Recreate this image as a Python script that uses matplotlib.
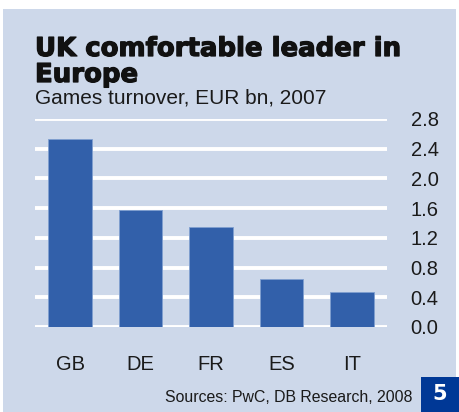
import matplotlib
matplotlib.use("Agg")
import matplotlib.pyplot as plt
from matplotlib.patches import Rectangle
import matplotlib.patheffects as pe

countries = ["GB", "DE", "FR", "ES", "IT"]
turnover = [2.53, 1.57, 1.34, 0.65, 0.47]
yticks = [0.0, 0.4, 0.8, 1.2, 1.6, 2.0, 2.4, 2.8]

bg = "#cdd8ea"
bar_col = "#3260aa"
W, H = 459, 412

fig = plt.figure(figsize=(W / 100, H / 100), dpi=100)
fig.patch.set_facecolor("white")
# light blue panel
fig.patches.append(Rectangle((3 / W, 0), (456 - 3) / W, (H - 9) / H,
                             transform=fig.transFigure, facecolor=bg,
                             edgecolor="none", zorder=-5))

ax = fig.add_axes([35 / W, 1 - 327 / H, (387 - 35) / W, (327 - 119) / H])
ax.set_facecolor("none")
ax.bar(range(len(countries)), turnover, width=0.62, color=bar_col,
       edgecolor="#7f9fd0", linewidth=0.6, zorder=2)
ax.set_xlim(-0.5, 4.5)
ax.set_ylim(0, 2.8)
ax.set_yticks(yticks)
ax.set_yticklabels([f"{v:.1f}" for v in yticks])
ax.yaxis.tick_right()
ax.grid(axis="y", color="white", linewidth=2.8, zorder=1)
ax.set_axisbelow(True)
ax.set_xticks(range(len(countries)))
ax.set_xticklabels(countries)
ax.tick_params(axis="both", length=0, labelsize=14.5, labelcolor="#1a1a1a",
               labelfontfamily="Liberation Sans")
ax.tick_params(axis="y", pad=17)
ax.tick_params(axis="x", pad=20)
for s in ax.spines.values():
    s.set_visible(False)

heavy = [pe.withStroke(linewidth=0.9, foreground="#111111")]
fig.text(35 / W, 1 - 56 / H, "UK comfortable leader in", fontsize=18.7,
         fontweight="heavy", family="DejaVu Sans", color="#111111",
         va="baseline", path_effects=heavy)
fig.text(35 / W, 1 - 82 / H, "Europe", fontsize=18.7,
         fontweight="heavy", family="DejaVu Sans", color="#111111",
         va="baseline", path_effects=heavy)
fig.text(35 / W, 1 - 103 / H, "Games turnover, EUR bn, 2007", fontsize=15,
         family="Liberation Sans", color="#1a1a1a", va="baseline")
fig.text(412 / W, 1 - 402 / H, "Sources: PwC, DB Research, 2008", fontsize=11.4,
         family="Liberation Sans", color="#1a1a1a", ha="right", va="baseline")

fig.patches.append(Rectangle((421 / W, 0), (W - 421) / W, (412 - 377) / H,
                             transform=fig.transFigure, facecolor="#003896",
                             edgecolor="none", zorder=1))
fig.text(440 / W, 1 - 394.5 / H, "5", fontsize=15, fontweight="bold",
         family="DejaVu Sans", color="white", ha="center", va="center")

fig.savefig("out.png", dpi=100, facecolor=fig.get_facecolor())
